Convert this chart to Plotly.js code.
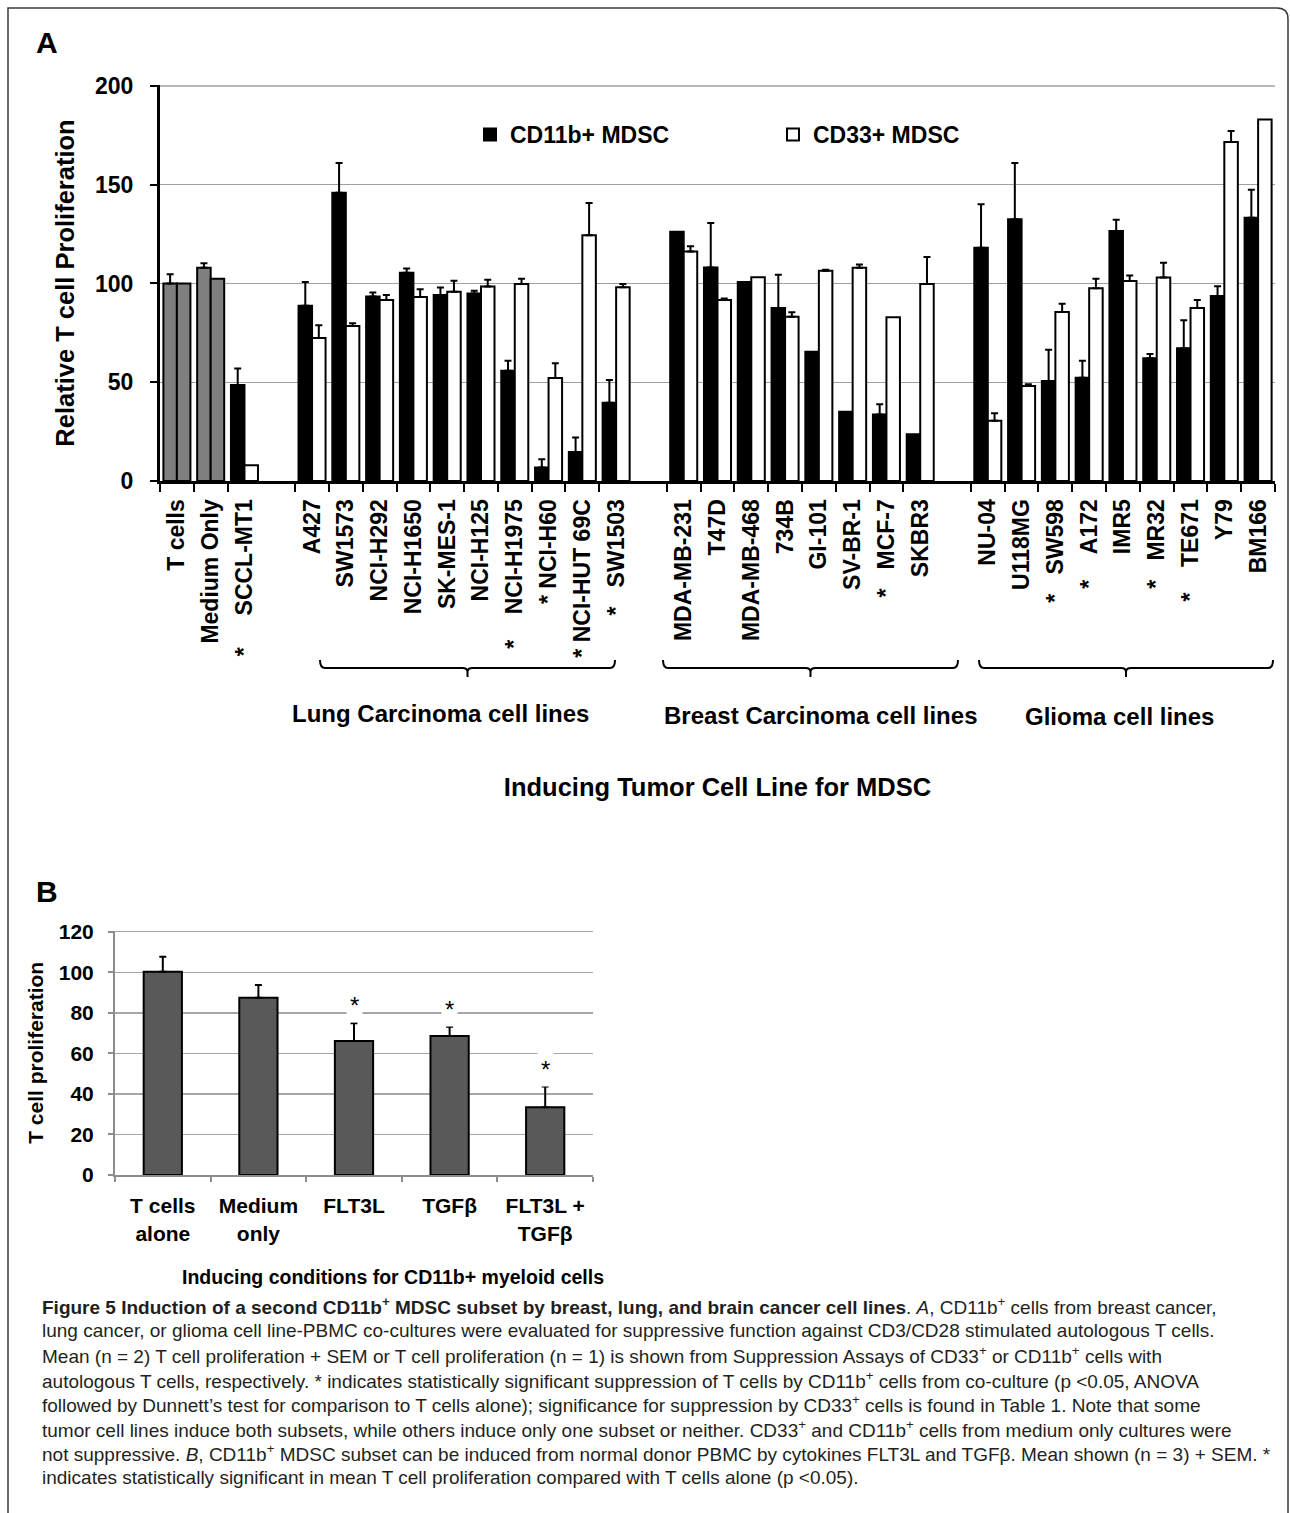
<!DOCTYPE html>
<html><head><meta charset="utf-8">
<script src="https://cdn.plot.ly/plotly-3.0.1.min.js"></script>
<style>html,body{margin:0;padding:0;background:#fff}#chart{width:1290px;height:1513px}</style>
</head><body><div id="chart"></div>
<script>
// ---------- Panel A data ----------
const S = "\u00a0";
const categories = ["T cells","Medium Only","SCCL-MT1","gap1","A427","SW1573","NCI-H292","NCI-H1650","SK-MES-1","NCI-H125","NCI-H1975","NCI-H60","NCI-HUT 69C","SW1503","gap2","MDA-MB-231","T47D","MDA-MB-468","734B","GI-101","SV-BR-1","MCF-7","SKBR3","gap3","NU-04","U118MG","SW598","A172","IMR5","MR32","TE671","Y79","BM166"];
const tickLabels = ["T cells","Medium Only","*"+S+S+S+S+S+"SCCL-MT1","","A427","SW1573","NCI-H292","NCI-H1650","SK-MES-1","NCI-H125","*"+S+S+S+S+"NCI-H1975","*"+S+"NCI-H60","*"+S+"NCI-HUT 69C","*"+S+S+S+"SW1503","","MDA-MB-231","T47D","MDA-MB-468","734B","GI-101","SV-BR-1","*"+S+S+S+"MCF-7","SKBR3","","NU-04","U118MG","*"+S+S+S+"SW598","*"+S+S+S+S+"A172","IMR5","*"+S+S+S+"MR32","*"+S+S+S+S+"TE671","Y79","BM166"];
const controlCategories = ["T cells","Medium Only"];
const cd11b    = [100,108,48.6,null,88.7,146,93.4,105.4,94.2,94.9,55.8,6.8,14.7,39.6,null,126.2,108.1,100.8,87.6,65.5,35.0,33.7,23.7,null,118.1,132.5,50.6,52.3,126.6,62.1,67.2,93.7,133.3];
const cd11bErr = [4.7,2.2,8.4,null,12.1,15,2.0,2.2,3.8,1.4,5.1,4.2,7.3,11.5,null,null,22.5,null,16.8,null,null,5.2,null,null,22,28.5,15.9,8.6,5.7,2.2,14.2,4.9,14.2];
const cd33     = [100,102.4,8.0,null,72.4,78.5,91.7,93.1,95.8,98.5,99.8,52.1,124.4,98.1,null,116.2,91.7,103.2,83.2,106.4,108,82.9,99.8,null,30.5,48.1,85.6,97.6,101.2,103,87.6,171.7,183];
const cd33Err  = [null,null,null,null,6.4,1.4,2.5,4.0,5.6,3.4,2.6,7.5,16.4,1.7,null,2.6,0.7,null,2.2,0.5,1.6,null,13.6,null,3.8,0.9,4.1,4.8,2.8,7.5,4.1,5.5,null];
const groupLabels = ["Lung Carcinoma cell lines","Breast Carcinoma cell lines","Glioma cell lines"];

// ---------- Panel B data ----------
const condB = ["T cells<br>alone","Medium<br>only","FLT3L","TGFβ","FLT3L +<br>TGFβ"];
const valB  = [100.2,87.4,66.1,68.5,33.4];
const errB  = [7.4,6.3,8.7,4.6,10.2];
const sigB  = [false,false,true,true,true];
const titleB = "Inducing conditions for CD11b+ myeloid cells";

// ---------- Caption ----------
const captionLines = [
 "<b>Figure 5 Induction of a second CD11b<sup>+</sup> MDSC subset by breast, lung, and brain cancer cell lines</b>. <i>A</i>, CD11b<sup>+</sup> cells from breast cancer,",
 "lung cancer, or glioma cell line-PBMC co-cultures were evaluated for suppressive function against CD3/CD28 stimulated autologous T cells.",
 "Mean (n = 2) T cell proliferation + SEM or T cell proliferation (n = 1) is shown from Suppression Assays of CD33<sup>+</sup> or CD11b<sup>+</sup> cells with",
 "autologous T cells, respectively. * indicates statistically significant suppression of T cells by CD11b<sup>+</sup> cells from co-culture (p &lt;0.05, ANOVA",
 "followed by Dunnett’s test for comparison to T cells alone); significance for suppression by CD33<sup>+</sup> cells is found in Table 1. Note that some",
 "tumor cell lines induce both subsets, while others induce only one subset or neither. CD33<sup>+</sup> and CD11b<sup>+</sup> cells from medium only cultures were",
 "not suppressive. <i>B</i>, CD11b<sup>+</sup> MDSC subset can be induced from normal donor PBMC by cytokines FLT3L and TGFβ. Mean shown (n = 3) + SEM. *",
 "indicates statistically significant in mean T cell proliferation compared with T cells alone (p &lt;0.05)."
];

// ---------- helpers ----------
const W = 1290, H = 1513;
const X = p => p / W, Y = p => 1 - p / H;
const FONT = "Liberation Sans, Arial, sans-serif";
const isCtl = c => controlCategories.includes(c);
const isGap = c => c.startsWith("gap");
const plus = a => a.map(v => v === null ? NaN : v);
const minus = a => a.map(v => v === null ? NaN : 0);
const pick = (arr, ctl) => arr.map((v, i) => (isCtl(categories[i]) === ctl) ? v : null);

function errY(arr){ return {type:'data', symmetric:false, array:plus(arr), arrayminus:minus(arr), color:'#000', thickness:2, width:3.5}; }

const traces = [
 {type:'bar', name:'CD11b+ MDSC', x:categories, y:pick(cd11b,false), error_y:errY(pick(cd11bErr,false)),
  marker:{color:'#000', line:{color:'#000', width:2}}, offsetgroup:'a', xaxis:'x', yaxis:'y', hoverinfo:'x+y'},
 {type:'bar', name:'CD33+ MDSC', x:categories, y:pick(cd33,false), error_y:errY(pick(cd33Err,false)),
  marker:{color:'#fff', line:{color:'#000', width:2}}, offsetgroup:'b', xaxis:'x', yaxis:'y', hoverinfo:'x+y'},
 {type:'bar', name:'CD11b+ control', showlegend:false, x:categories, y:pick(cd11b,true), error_y:errY(pick(cd11bErr,true)),
  marker:{color:'#7f7f7f', line:{color:'#000', width:2}}, offsetgroup:'a', xaxis:'x', yaxis:'y', hoverinfo:'x+y'},
 {type:'bar', name:'CD33+ control', showlegend:false, x:categories, y:pick(cd33,true), error_y:errY(pick(cd33Err,true)),
  marker:{color:'#7f7f7f', line:{color:'#000', width:2}}, offsetgroup:'b', xaxis:'x', yaxis:'y', hoverinfo:'x+y'},
 {type:'bar', name:'T cell proliferation', showlegend:false, x:condB, y:valB, width:0.4,
  error_y:{type:'data', symmetric:false, array:errB, arrayminus:errB.map(()=>0), color:'#000', thickness:2, width:3.5},
  marker:{color:'#595959', line:{color:'#000', width:2}}, xaxis:'x2', yaxis:'y2', hoverinfo:'x+y'}
];

function bracket(x1, x2){
 const cx = (x1 + x2) / 2, yt = 660, yl = 668, yb = 677;
 const P = (x, y) => X(x) + ',' + Y(y);
 return {type:'path', xref:'paper', yref:'paper', line:{color:'#000', width:2},
  path: 'M' + P(x1,yt) + ' Q' + P(x1,yl) + ' ' + P(x1+5,yl) + ' L' + P(cx-5,yl) + ' Q' + P(cx,yl) + ' ' + P(cx,yl+4) +
        ' L' + P(cx,yb) + ' M' + P(cx,yl+4) + ' Q' + P(cx,yl) + ' ' + P(cx+5,yl) + ' L' + P(x2-5,yl) + ' Q' + P(x2,yl) + ' ' + P(x2,yt)};
}

const shapes = [
 {type:'line', xref:'x domain', yref:'y', x0:0, x1:1, y0:200, y1:200, layer:'below', line:{color:'#a0a0a0', width:1.5}},
 bracket(320, 615), bracket(663, 958), bracket(979, 1273),
 {type:'path', xref:'paper', yref:'paper', line:{color:'#3a3a3a', width:1.5},
  path:'M'+X(8)+','+Y(1513)+' L'+X(8)+','+Y(8)+' L'+X(1277)+','+Y(8)+' Q'+X(1288)+','+Y(8)+' '+X(1288)+','+Y(19)+' L'+X(1288)+','+Y(1513)}
];

const annotations = [
 {xref:'paper', yref:'paper', x:X(47), y:Y(42), text:'<b>A</b>', showarrow:false, font:{size:30, color:'#000'}, xanchor:'center', yanchor:'middle'},
 {xref:'paper', yref:'paper', x:X(47), y:Y(891), text:'<b>B</b>', showarrow:false, font:{size:30, color:'#000'}, xanchor:'center', yanchor:'middle'},
 {xref:'paper', yref:'paper', x:X(393), y:Y(1277), text:titleB, showarrow:false, font:{size:19.5, weight:'bold', color:'#000'}, xanchor:'center', yanchor:'middle'}
];
const groupCenters = [[440,713],[820,715],[1119,716]];
groupLabels.forEach((t, i) => annotations.push({xref:'paper', yref:'paper', x:X(groupCenters[i][0]), y:Y(groupCenters[i][1]),
 text:t, showarrow:false, font:{size:24, weight:'bold', color:'#000'}, xanchor:'center', yanchor:'middle'}));
sigB.forEach((s, i) => { if (s) annotations.push({xref:'x2', yref:'y2', x:condB[i], y:valB[i] + errB[i], text:'*',
 showarrow:false, yanchor:'bottom', yshift:0, font:{size:24, color:'#000'}, bgcolor:'#fff', borderpad:3}); });
captionLines.forEach((t, i) => annotations.push({xref:'paper', yref:'paper', x:X(40), y:Y(1306 + i * 24.5), text:t,
 showarrow:false, xanchor:'left', yanchor:'middle', align:'left', font:{size:19, color:'#231f20'}}));

const layout = {
 width:W, height:H, margin:{l:0, r:0, t:0, b:0},
 paper_bgcolor:'#fff', plot_bgcolor:'rgba(0,0,0,0)',
 font:{family:FONT, color:'#000'},
 barmode:'group', bargap:0.2, bargroupgap:0,
 showlegend:true,
 legend:{orientation:'h', x:X(470), y:Y(113), xanchor:'left', yanchor:'top', font:{size:23, weight:'bold'},
  entrywidth:258, entrywidthmode:'pixels', bgcolor:'rgba(0,0,0,0)', traceorder:'normal'},
 xaxis:{domain:[X(160), X(1275)], anchor:'y', type:'category', categoryorder:'array', categoryarray:categories,
  tickmode:'array', tickvals:categories.filter(c => !isGap(c)), ticktext:tickLabels.filter((t, i) => !isGap(categories[i])),
  tickangle:-90, tickfont:{size:23, weight:'bold'},
  showline:true, linecolor:'#000', linewidth:3, ticks:'outside', tickson:'boundaries', ticklen:8, tickwidth:2, tickcolor:'#000',
  showgrid:false, ticklabelstandoff:6, automargin:false,
  title:{text:'Inducing Tumor Cell Line for MDSC', font:{size:25.5, weight:'bold'}, standoff:122}},
 yaxis:{domain:[Y(481), Y(85)], anchor:'x', range:[0,200.5], tickmode:'array', tickvals:[0,50,100,150,200],
  showline:true, linecolor:'#000', linewidth:3, ticks:'outside', ticklen:7, tickwidth:2, tickcolor:'#000',
  gridcolor:'#a0a0a0', gridwidth:1.5, zeroline:false, tickfont:{size:23, weight:'bold'}, ticklabelstandoff:12, automargin:false,
  title:{text:'Relative T cell Proliferation', font:{size:25.5, weight:'bold'}, standoff:14}},
 xaxis2:{domain:[X(115), X(593)], anchor:'y2', type:'category', showline:true, linecolor:'#8c8c8c', linewidth:2,
  ticks:'outside', tickson:'boundaries', ticklen:5, tickwidth:2, tickcolor:'#8c8c8c', showgrid:false,
  tickfont:{size:21, weight:'bold'}, ticklabelstandoff:11, automargin:false},
 yaxis2:{domain:[Y(1175), Y(930.7)], anchor:'x2', range:[0,120.5], tickmode:'array', tickvals:[0,20,40,60,80,100,120],
  showline:true, linecolor:'#8c8c8c', linewidth:2, ticks:'outside', ticklen:5, tickwidth:2, tickcolor:'#8c8c8c',
  gridcolor:'#a6a6a6', gridwidth:1.5, zeroline:false, tickfont:{size:21, weight:'bold'}, ticklabelstandoff:10, automargin:false,
  title:{text:'T cell proliferation', font:{size:21, weight:'bold'}, standoff:9}},
 shapes:shapes, annotations:annotations
};

Plotly.newPlot('chart', traces, layout, {displayModeBar:false, staticPlot:true});
</script></body></html>
